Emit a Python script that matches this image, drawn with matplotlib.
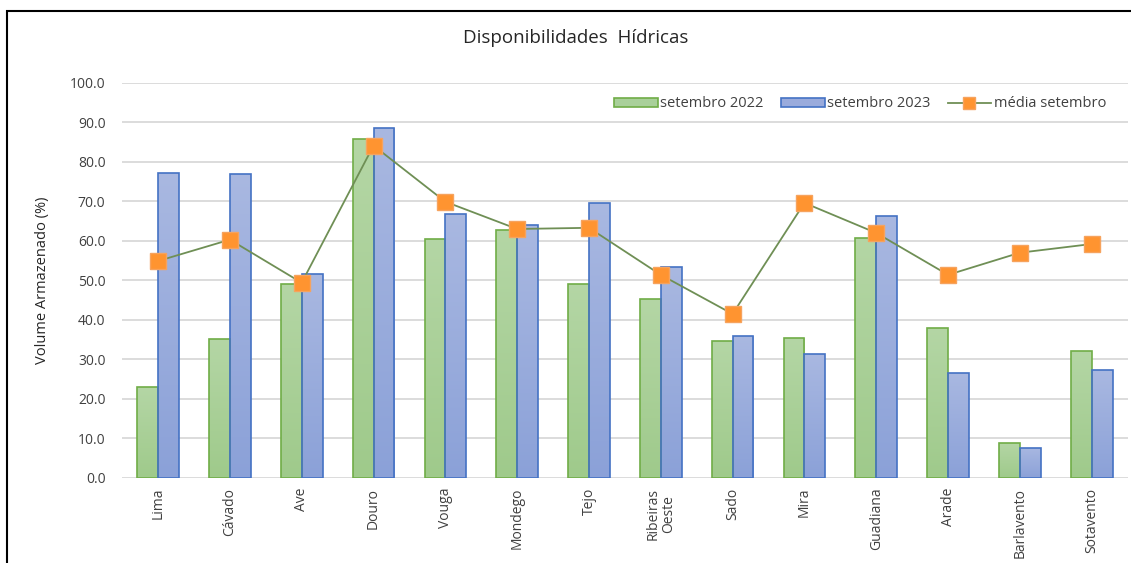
import numpy as np
import matplotlib.pyplot as plt
from matplotlib.colors import to_rgba
from matplotlib.patches import Rectangle, Patch
from matplotlib.lines import Line2D

plt.rcParams['font.family'] = ['Open Sans', 'DejaVu Sans']

# data
bacias = ['Lima', 'Cávado', 'Ave', 'Douro', 'Vouga', 'Mondego', 'Tejo',
          'Ribeiras\nOeste', 'Sado', 'Mira', 'Guadiana', 'Arade',
          'Barlavento', 'Sotavento']
set_2022 = [23.0, 35.2, 49.1, 85.8, 60.5, 62.8, 49.1, 45.3, 34.7, 35.4, 60.8, 38.0, 8.9, 32.2]
set_2023 = [77.2, 77.0, 51.6, 88.6, 66.8, 64.1, 69.6, 53.4, 35.9, 31.4, 66.3, 26.6, 7.6, 27.3]
media_set = [54.9, 60.3, 49.4, 84.1, 69.9, 63.0, 63.3, 51.4, 41.5, 69.6, 62.0, 51.4, 57.0, 59.2]


def gradient_bars(ax, bars, top_col, bot_col):
    # vertical gradient fill clipped to each bar
    c1 = np.array(to_rgba(top_col))
    c2 = np.array(to_rgba(bot_col))
    t = np.linspace(0, 1, 128)[:, None]
    grad = (c1 * (1 - t) + c2 * t)[:, None, :]
    for b in bars:
        x0, w, h = b.get_x(), b.get_width(), b.get_height()
        im = ax.imshow(grad, extent=[x0, x0 + w, 0, h], aspect='auto',
                       origin='upper', zorder=2)
        im.set_clip_path(b)
        b.set_facecolor('none')


fig = plt.figure(figsize=(11.31, 5.63), dpi=100)
ax = fig.add_axes([0.108, 0.151, 0.889, 0.702])

x = np.arange(len(bacias))
w = 0.29
b1 = ax.bar(x - w / 2, set_2022, w, edgecolor='#70ad47', linewidth=1.2, zorder=3)
b2 = ax.bar(x + w / 2, set_2023, w, edgecolor='#4472c4', linewidth=1.2, zorder=3)
ax.plot(x, media_set, color='#6f8f55', lw=1.3, marker='s', markersize=12,
        markerfacecolor='#ff9430', markeredgecolor='#f6a35e', markeredgewidth=1,
        zorder=5)

gradient_bars(ax, b1, '#b4d6a5', '#9fca8b')
gradient_bars(ax, b2, '#a9b8e1', '#8ba1d8')

ax.set_xlim(-0.5, len(bacias) - 0.5)
ax.set_ylim(0, 100)
ax.set_yticks(np.arange(0, 101, 10))
ax.set_yticklabels([f'{v:.1f}' for v in np.arange(0, 101, 10)])
ax.set_xticks(x)
ax.set_xticklabels(bacias, rotation=90, va='top', ha='center', linespacing=1.1)
ax.tick_params(length=0, labelsize=10, colors='#404040', pad=7)
ax.tick_params(axis='y', pad=12)
ax.grid(axis='y', color='#d9d9d9', lw=1.3, zorder=0)
ax.set_axisbelow(True)
for s in ax.spines.values():
    s.set_visible(False)

ax.set_ylabel('Volume Armazenado (%)', fontsize=10.5, color='#262626', labelpad=14)
fig.text(0.509, 0.933, 'Disponibilidades  Hídricas', ha='center', va='center',
         fontsize=13.5, color='#262626')

handles = [
    Patch(facecolor='#a9d09a', edgecolor='#70ad47', lw=1.2),
    Patch(facecolor='#9aabdc', edgecolor='#4472c4', lw=1.2),
    Line2D([], [], color='#6f8f55', lw=1.3, marker='s', markersize=8,
           markerfacecolor='#ff9430', markeredgecolor='#f6a35e'),
]
labels = ['setembro 2022', 'setembro 2023', 'média setembro']
leg = ax.legend(handles, labels, ncol=3, loc='upper right',
                bbox_to_anchor=(0.99, 0.995), frameon=False, fontsize=10.5,
                handlelength=3.0, handleheight=0.6, handletextpad=0.15,
                columnspacing=1.2, borderaxespad=0.4)
for t in leg.get_texts():
    t.set_color('#404040')

# outer frame of the chart (cut off at right and bottom)
fig.patches.append(Rectangle((7 / 1131, -0.1), 1.2, 1 - 11 / 563 + 0.1,
                             transform=fig.transFigure, fill=False,
                             edgecolor='black', lw=1.5))

fig.savefig('out.png', dpi=100)
